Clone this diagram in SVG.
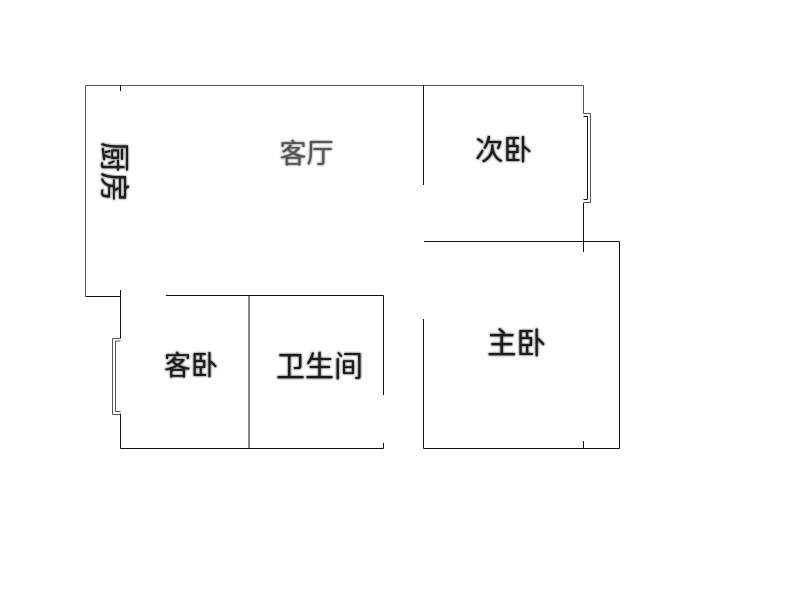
<svg xmlns="http://www.w3.org/2000/svg" width="800" height="600" viewBox="0 0 800 600">
<defs>
<filter id="soft" x="-20%" y="-20%" width="140%" height="140%"><feGaussianBlur in="SourceGraphic" stdDeviation="1.3" result="b"/><feMerge><feMergeNode in="b"/><feMergeNode in="SourceGraphic"/></feMerge></filter>
</defs>
<style>
.w{fill:none;stroke:#111;stroke-width:1}
.g{fill:none;stroke:#555;stroke-width:1}
.t{font-family:"Noto Sans CJK SC","Noto Sans CJK JP",sans-serif;fill:#1a1a1a;text-anchor:middle;filter:url(#soft)}
.l{fill:#555}
</style>
<rect width="800" height="600" fill="#fff"/>
<g id="walls">
<path class="g" d="M85.500 296.500V85.500H583.500V113.500"/>
<path class="w" d="M85.500 296.500H120.500M120.500 85V91M120.500 290V338.500M120.500 413.500V448.500H383.500V443M166 295.500H383.500V395M249 296V448"/>
<path class="w" d="M423.500 85V185M424 241.500H619.500V448.500H423.500V319M583.500 203V252M583.500 441V448"/>
</g>
<g id="windows">
<path class="g" d="M583.500 113.500H590.500V202.500H583.500"/>
<path class="w" stroke-width="1.500" d="M583.500 116.500H587.500V199.500H583.500"/>
<path class="g" d="M120.500 338.500H112.500V414.500H120.500M120.500 341H115.500V411.500H120.500"/>
</g>
<g id="kitchen"><text class="t" font-size="30" transform="translate(104,172) rotate(90)">厨房</text></g>
<g id="living"><text class="t l" font-size="27" x="306.500" y="163">客厅</text></g>
<g id="bedroom2"><text class="t" font-size="28.500" x="503.500" y="160">次卧</text></g>
<g id="guest"><text class="t" font-size="27" x="191" y="375">客卧</text></g>
<g id="bath"><text class="t" font-size="29" x="319.500" y="377">卫生间</text></g>
<g id="master"><text class="t" font-size="29.500" x="516.500" y="353">主卧</text></g>
</svg>
